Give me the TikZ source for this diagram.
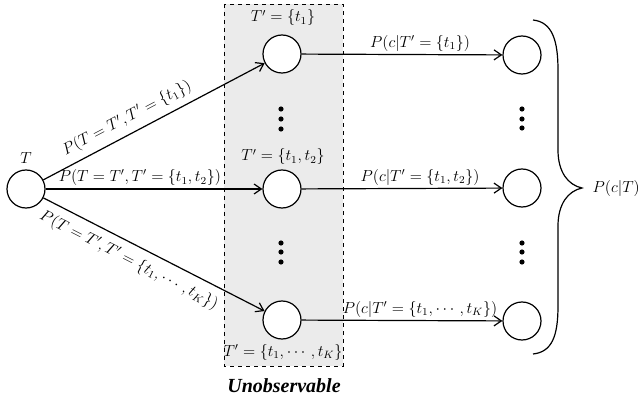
\documentclass[tikz,border=0pt]{standalone}
\usepackage{fontspec}
\usepackage{amsmath}
\newfontfamily\tnrfont{Liberation Serif}
\usetikzlibrary{arrows.meta}
\begin{document}
\begin{tikzpicture}[x=0.75pt,y=-0.75pt,
  every node/.style={font=\fontsize{12}{14}\selectfont},
  state/.style={circle,draw,line width=0.9pt,fill=white,minimum size=28.5pt,inner sep=0pt},
  conn/.style={line width=0.9pt,-{Straight Barb[length=5.5pt,width=7.5pt]}},
  lab/.style={inner sep=2pt},
  dotmark/.style={fill=black}]
\useasboundingbox (0,0) rectangle (640,403);
% unobservable box
\draw[dashed,line width=0.7pt,fill=black!8] (224,4) rectangle (343,366);
\node[font=\tnrfont\bfseries\itshape\fontsize{15}{17}\selectfont] (unobs) at (284,386) {Unobservable};
% nodes
\node[state] (T) at (26,189) {};
\node (Tlab) at (26,158) {$T$};
\node[state] (m1) at (282,54) {};
\node[state] (m2) at (282,189) {};
\node[state] (m3) at (282,320) {};
\node[state] (r1) at (522,55) {};
\node[state] (r2) at (522,188) {};
\node[state] (r3) at (522,321) {};
% labels in box
\node (ml1) at (283,18) {$T' = \{t_1\}$};
\node (ml2) at (283,157) {$T' = \{t_1, t_2\}$};
\node (ml3) at (283,352) {$T' = \{t_1, \cdots, t_K\}$};
% dots
\foreach \y in {109,119,129} {\fill[dotmark] (281,\y) circle (2.6);}
\foreach \y in {243,252,262} {\fill[dotmark] (281,\y) circle (2.6);}
\foreach \y in {109,119,128} {\fill[dotmark] (522,\y) circle (2.6);}
\foreach \y in {243,252,262} {\fill[dotmark] (522,\y) circle (2.6);}
% left connectors
\draw[conn] (T) -- node[lab,above=3pt,sloped,pos=0.41] (e1) {$P(T = T', T' = \{t_1\})$} (m1);
\draw[conn] (T) -- node[lab,above,pos=0.435] (e2) {$P(T = T', T' = \{t_1, t_2\})$} (m2);
\draw[conn] (T) -- node[lab,below=4pt,sloped,pos=0.42] (e3) {$P(T = T', T' = \{t_1, \cdots, t_K\})$} (m3);
% right connectors
\draw[conn] (m1) -- node[lab,above,pos=0.59] (f1) {$P(c|T' = \{t_1\})$} (r1);
\draw[conn] (m2) -- node[lab,above,pos=0.59] (f2) {$P(c|T' = \{t_1, t_2\})$} (r2);
\draw[conn] (m3) -- node[lab,above,pos=0.59] (f3) {$P(c|T' = \{t_1, \cdots, t_K\})$} (r3);
% brace
\draw[line width=0.9pt] (533,20) .. controls (552,22) and (558,40) .. (558,70) -- (558,150)
  .. controls (558,172) and (568,185) .. (582,188)
  .. controls (568,191) and (558,204) .. (558,226) -- (558,306)
  .. controls (558,336) and (552,352) .. (533,354);
\node[anchor=west] (pct) at (588,188) {$P(c|T)$};
\end{tikzpicture}
\end{document}
